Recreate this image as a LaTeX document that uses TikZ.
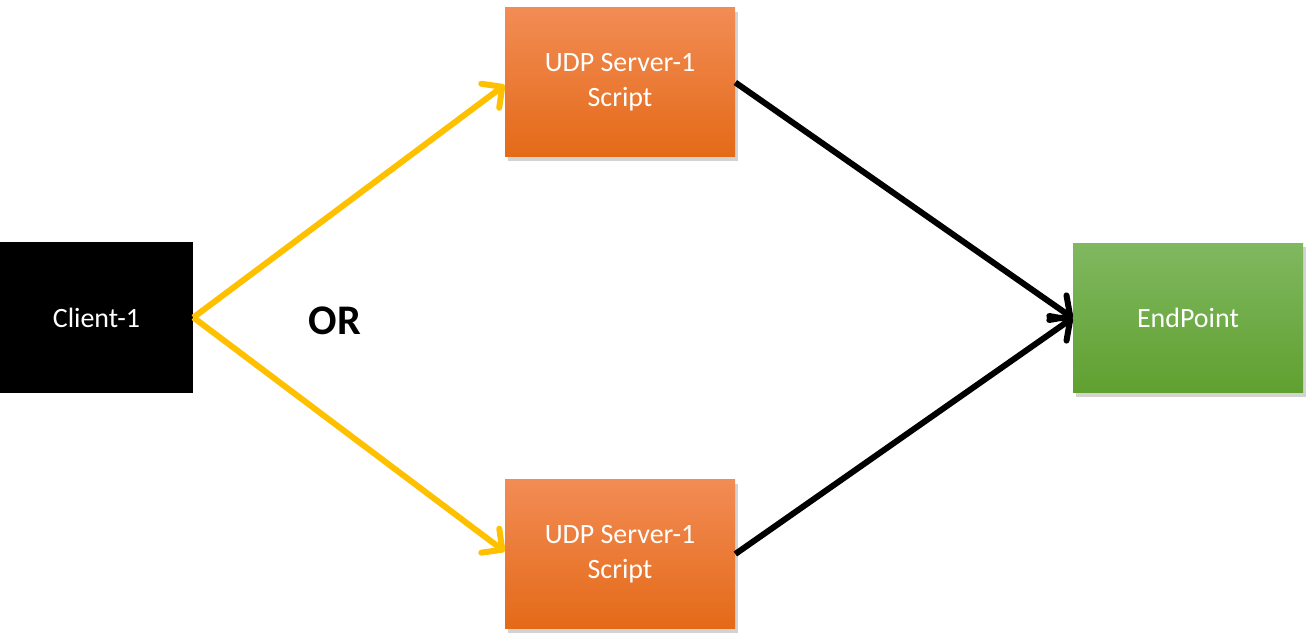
\documentclass[tikz,border=0pt]{standalone}
\usepackage{fontspec}
\setmainfont{Carlito}
\usetikzlibrary{arrows.meta, shadows, positioning}
\definecolor{orgtop}{HTML}{F28C55}
\definecolor{orgmid}{HTML}{F27A2A}
\definecolor{orgbot}{HTML}{E46A18}
\definecolor{grntop}{HTML}{80B860}
\definecolor{grnbot}{HTML}{60A030}
\definecolor{yarrow}{HTML}{FFC000}

\begin{document}
\begin{tikzpicture}[
            box/.style={rectangle, minimum width=4.6cm, minimum height=2.98cm, inner sep=0pt,
                text = white, font=\fontsize{15.9}{20}\selectfont, align=center},
            udp/.style={box, top color=orgtop, middle color=orgmid, bottom color=orgbot,
                drop shadow={shadow xshift=0.06cm, shadow yshift=-0.08cm, opacity=0.35}},
            ep/.style={box, top color=grntop, bottom color=grnbot,
                drop shadow={shadow xshift=0.06cm, shadow yshift=-0.08cm, opacity=0.35}},
            yflow/.style={yarrow, line width=0.12cm, -{Straight Barb[round, length=0.3cm, width=0.6cm]}},
            bflow/.style={black, line width=0.12cm, -{Straight Barb[round, length=0.3cm, width=0.6cm]}}]
        \useasboundingbox (0,0) rectangle (26.24,12.84);
        \node[box, fill=black, minimum width=3.86cm, minimum height=3.02cm] (client) at (1.93,6.49) {Client-1};
        \node[udp] (srvA) at (12.4,11.19) {UDP Server-1\\Script};
        \node[udp] (srvB) at (12.4,1.76) {UDP Server-1\\Script};
        \node[ep] (endpt) at (23.76,6.48) {EndPoint};
        \node[font=\fontsize{24}{28}\selectfont\bfseries] (or) at (6.7,6.42) {OR};
        \draw[yflow] (client.east) -- ([yshift=-0.05cm]srvA.west);
        \draw[yflow] (client.east) -- ([yshift=0.05cm]srvB.west);
        \draw[bflow] (srvA.east) -- (endpt.west);
        \draw[bflow] (srvB.east) -- (endpt.west);
    \end{tikzpicture}
\end{document}
